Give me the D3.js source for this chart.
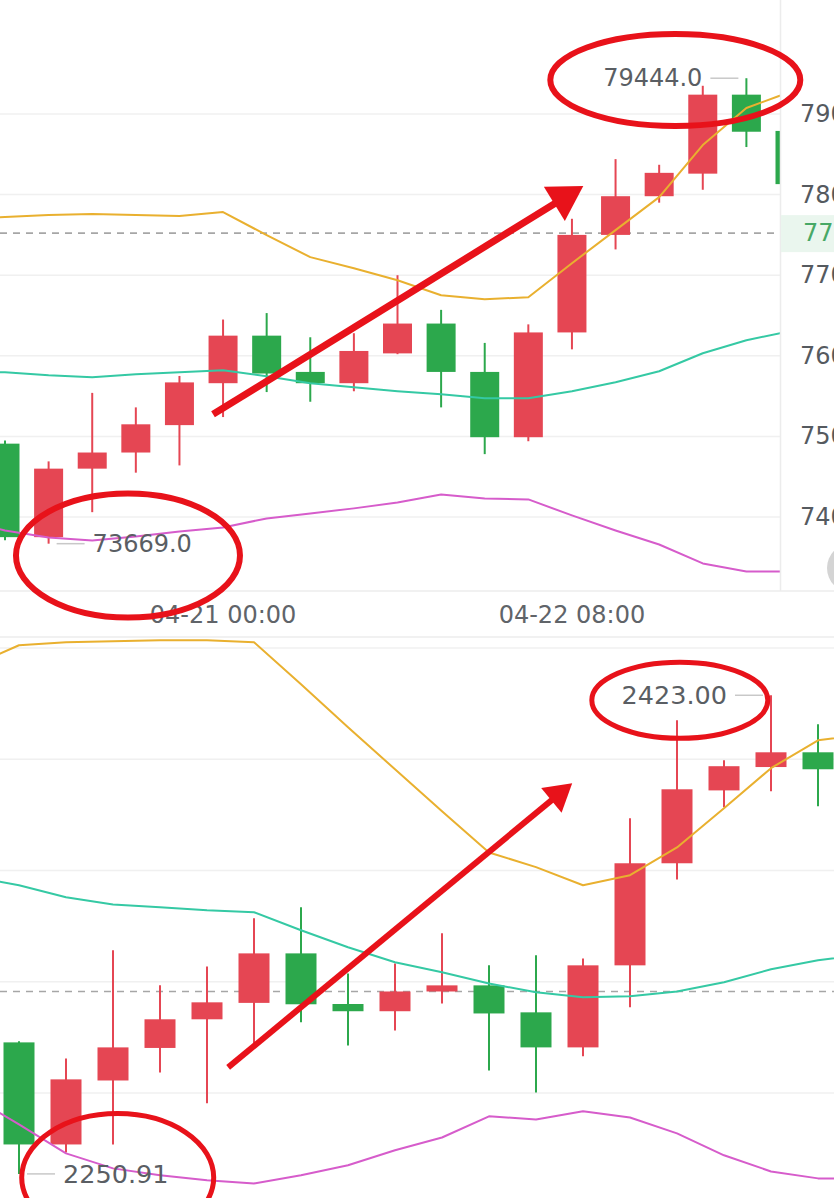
<!DOCTYPE html>
<html>
<head>
<meta charset="utf-8">
<script src="https://cdn.jsdelivr.net/npm/d3@7/dist/d3.min.js"></script>
<style>
  html, body { margin: 0; padding: 0; background: #ffffff; overflow: hidden; }
  svg { display: block; }
  text { font-family: "DejaVu Sans", "Liberation Sans", sans-serif; }
</style>
</head>
<body>
<svg id="chart" width="834" height="1198"></svg>
<script>
// ---------------- DATA ----------------
// Top panel (BTC, 4h candles)
const btcOpen  = [74910, 73750, 74600, 74800, 75140, 75660, 76250, 75800, 75660, 76030, 76400, 75800, 74990, 76290, 77500, 77980, 78260, 79240, 78790];
const btcHigh  = [74950, 74690, 75540, 75360, 75750, 76450, 76530, 76230, 76280, 77000, 76570, 76160, 76390, 77700, 78440, 78370, 79350, 79444, 78800];
const btcLow   = [73710, 73669, 74060, 74550, 74640, 75240, 75550, 75430, 75560, 76020, 75360, 74780, 74940, 76080, 77320, 77900, 78060, 78590, 78100];
const btcClose = [73750, 74600, 74800, 75150, 75670, 76250, 75780, 75660, 76060, 76400, 75800, 74990, 76290, 77500, 77980, 78270, 79240, 78780, 78130];
// band lines, first value belongs to the candle before index 0
const btcUpper = [77696, 77721, 77746, 77758, 77746, 77733, 77783, 77497, 77224, 77087, 76938, 76752, 76702, 76727, 77149, 77559, 77969, 78615, 79075, 79273];
const btcMid   = [75808, 75796, 75758, 75733, 75771, 75796, 75820, 75746, 75659, 75609, 75560, 75522, 75473, 75473, 75560, 75671, 75808, 76032, 76193, 76305];
const btcLower = [73957, 73833, 73746, 73709, 73759, 73821, 73871, 73982, 74044, 74107, 74181, 74280, 74231, 74218, 74020, 73833, 73659, 73424, 73324, 73324];
const btcTicks = [79000, 78000, 77000, 76000, 75000, 74000];
const btcLast  = 77522.0;
const btcTimeLabels = [{ i: 5, label: "04-21 00:00" }, { i: 13, label: "04-22 08:00" }];
const btcHighMark = { i: 17, value: 79444.0, label: "79444.0" };
const btcLowMark  = { i: 1,  value: 73669.0, label: "73669.0" };

// Bottom panel (ETH, 4h candles)
const ethOpen  = [2298.2, 2261.5, 2284.5, 2296.2, 2306.5, 2312.4, 2330.2, 2312.0, 2309.4, 2316.5, 2318.7, 2309.0, 2296.4, 2325.9, 2362.6, 2388.8, 2397.2, 2402.5];
const ethHigh  = [2298.6, 2292.4, 2331.3, 2318.7, 2325.5, 2342.8, 2346.8, 2323.0, 2326.6, 2337.4, 2325.9, 2329.5, 2328.4, 2378.8, 2414.0, 2399.6, 2423.0, 2412.6];
const ethLow   = [2250.91, 2258.6, 2261.5, 2287.4, 2276.3, 2297.8, 2305.4, 2297.1, 2302.5, 2312.2, 2288.1, 2280.2, 2293.2, 2310.8, 2356.8, 2382.7, 2388.5, 2383.1];
const ethClose = [2261.5, 2284.9, 2296.4, 2306.5, 2312.6, 2330.2, 2311.9, 2309.4, 2316.5, 2318.7, 2308.6, 2296.4, 2325.9, 2362.6, 2389.2, 2397.5, 2402.5, 2396.4];
const ethUpper = [2433.5, 2441.0, 2442.1, 2442.4, 2442.8, 2442.8, 2442.1, 2427.0, 2411.5, 2396.4, 2381.3, 2366.5, 2361.2, 2354.7, 2358.3, 2368.3, 2382.4, 2396.8, 2406.8, 2409.0];
const ethMid   = [2357.9, 2354.7, 2350.4, 2347.8, 2346.8, 2345.7, 2345.0, 2338.5, 2332.4, 2327.0, 2323.4, 2319.4, 2316.2, 2314.4, 2314.8, 2316.5, 2319.8, 2324.5, 2327.7, 2329.9];
const ethLower = [2278.8, 2268.7, 2258.3, 2252.9, 2250.4, 2248.6, 2247.5, 2250.4, 2254.0, 2259.4, 2264.0, 2271.6, 2270.5, 2273.4, 2271.2, 2265.5, 2257.6, 2251.8, 2249.3, 2249.3];
const ethTicks = [2440, 2400, 2360, 2320, 2280];
const ethLast  = 2316.5;
const ethHighMark = { i: 16, value: 2423.00, label: "2423.00" };
const ethLowMark  = { i: 0,  value: 2250.91, label: "2250.91" };

// Hand-drawn annotations (in data coordinates: candle index, price)
const btcArrow = { from: [4.77, 75274], to: [13.26, 78106] };
const ethArrow = { from: [4.45, 2289.2], to: [11.77, 2391.4] };
const btcEllipses = [ { i: 15.37, v: 79422, rx: 125, ry: 46 }, { i: 2.82, v: 73523, rx: 112, ry: 62 } ];
const ethEllipses = [ { i: 14.06, v: 2421.2, rx: 88, ry: 38 }, { i: 2.1, v: 2249.6, rx: 96, ry: 64 } ];

// ---------------- STYLE ----------------
const UP = "#e54653", DOWN = "#2ca84c";
const C_UPPER = "#e9b02f", C_MID = "#35c9a4", C_LOWER = "#d65ccb";
const ANNO = "#e8121a";
const W = 834;

const svg = d3.select("#chart");
const defs = svg.append("defs");
defs.append("clipPath").attr("id", "clipTop").append("rect").attr("x", 0).attr("y", 0).attr("width", 780).attr("height", 591);
defs.append("clipPath").attr("id", "clipBot").append("rect").attr("x", 0).attr("y", 638).attr("width", W).attr("height", 560);

function drawPanel(cfg) {
  const { x, y, open, high, low, close, upper, mid, lower, ticks, last, clip, left, right, bw } = cfg;
  const g = svg.append("g");
  g.append("g").selectAll("line").data(ticks).join("line")
    .attr("x1", left).attr("x2", right)
    .attr("y1", d => y(d)).attr("y2", d => y(d))
    .attr("stroke", "#f0f0f0").attr("stroke-width", 1.5);
  const p = g.append("g").attr("clip-path", `url(#${clip})`);
  p.append("line").attr("x1", left).attr("x2", right)
    .attr("y1", y(last)).attr("y2", y(last))
    .attr("stroke", "#a6a6a6").attr("stroke-width", 1.6).attr("stroke-dasharray", "7,6");
  const idx = d3.range(open.length);
  const col = i => close[i] >= open[i] ? UP : DOWN;
  p.append("g").selectAll("line").data(idx).join("line")
    .attr("x1", i => x(i)).attr("x2", i => x(i))
    .attr("y1", i => y(high[i])).attr("y2", i => y(low[i]))
    .attr("stroke", col).attr("stroke-width", 2);
  p.append("g").selectAll("rect").data(idx).join("rect")
    .attr("x", i => x(i) - bw / 2)
    .attr("width", bw)
    .attr("y", i => y(Math.max(open[i], close[i])))
    .attr("height", i => Math.max(2, Math.abs(y(open[i]) - y(close[i]))))
    .attr("fill", col);
  const line = d3.line().x((d, k) => x(k - 1)).y(d => y(d));
  [[upper, C_UPPER], [mid, C_MID], [lower, C_LOWER]].forEach(([arr, c]) => {
    p.append("path").attr("d", line(arr)).attr("fill", "none")
      .attr("stroke", c).attr("stroke-width", 2).attr("stroke-linejoin", "round");
  });
  return g;
}

function markLabel(g, x, y, mark, side, fs) {
  const cx = x(mark.i), cy = y(mark.value);
  const s = side === "left" ? -1 : 1;
  g.append("line")
    .attr("x1", cx + s * 8).attr("x2", cx + s * 36)
    .attr("y1", cy).attr("y2", cy)
    .attr("stroke", "#c8c8c8").attr("stroke-width", 1.5);
  g.append("text")
    .attr("x", cx + s * 44).attr("y", cy)
    .attr("text-anchor", side === "left" ? "end" : "start")
    .attr("dominant-baseline", "central")
    .attr("font-size", fs).attr("fill", "#5a5e63")
    .text(mark.label);
}

function drawArrow(g, x, y, arrow, shaftW, headLen, headHalf) {
  const x1 = x(arrow.from[0]), y1 = y(arrow.from[1]);
  const x2 = x(arrow.to[0]), y2 = y(arrow.to[1]);
  const ang = Math.atan2(y2 - y1, x2 - x1);
  const bx = x2 - headLen * Math.cos(ang), by = y2 - headLen * Math.sin(ang);
  g.append("line").attr("x1", x1).attr("y1", y1).attr("x2", bx + Math.cos(ang) * 2).attr("y2", by + Math.sin(ang) * 2)
    .attr("stroke", ANNO).attr("stroke-width", shaftW);
  const nx = -Math.sin(ang), ny = Math.cos(ang);
  g.append("path")
    .attr("d", `M${x2},${y2}L${bx + nx * headHalf},${by + ny * headHalf}L${bx - nx * headHalf},${by - ny * headHalf}Z`)
    .attr("fill", ANNO);
}

// ---------------- TOP PANEL ----------------
const xTop = d3.scaleLinear().domain([0, 18]).range([5, 790]);
const yTop = d3.scaleLinear().domain([74000, 79000]).range([517, 114]);
const topPanel = drawPanel({ x: xTop, y: yTop, open: btcOpen, high: btcHigh, low: btcLow, close: btcClose,
  upper: btcUpper, mid: btcMid, lower: btcLower, ticks: btcTicks, last: btcLast, clip: "clipTop",
  left: 0, right: 780, bw: 29 });

svg.append("line").attr("x1", 780.5).attr("x2", 780.5).attr("y1", 0).attr("y2", 591).attr("stroke", "#ececec").attr("stroke-width", 1.5);
svg.append("line").attr("x1", 0).attr("x2", W).attr("y1", 591).attr("y2", 591).attr("stroke", "#ececec").attr("stroke-width", 1.5);
svg.append("line").attr("x1", 0).attr("x2", W).attr("y1", 637).attr("y2", 637).attr("stroke", "#ededed").attr("stroke-width", 1.5);

// right axis labels, cut by the window edge as in the source screenshot
svg.append("g").selectAll("text").data(btcTicks).join("text")
  .attr("x", 800).attr("y", d => yTop(d)).attr("dominant-baseline", "central")
  .attr("font-size", 24).attr("fill", "#555a5f")
  .text(d => d3.format(".1f")(d));
svg.append("rect").attr("x", 781).attr("y", yTop(btcLast) - 18).attr("width", 60).attr("height", 37).attr("fill", "#eaf6ee");
svg.append("text").attr("x", 803).attr("y", yTop(btcLast)).attr("dominant-baseline", "central")
  .attr("font-size", 24).attr("fill", "#47a866").text(d3.format(".1f")(btcLast));
svg.append("circle").attr("cx", 852).attr("cy", 568).attr("r", 25).attr("fill", "#d4d4d4");

svg.append("g").selectAll("text").data(btcTimeLabels).join("text")
  .attr("x", d => xTop(d.i)).attr("y", 615).attr("text-anchor", "middle").attr("dominant-baseline", "central")
  .attr("font-size", 24).attr("fill", "#606469")
  .text(d => d.label);

markLabel(topPanel, xTop, yTop, btcHighMark, "left", 24);
markLabel(topPanel, xTop, yTop, btcLowMark, "right", 24);

// ---------------- BOTTOM PANEL ----------------
const xBot = d3.scaleLinear().domain([0, 17]).range([19, 818]);
const yBot = d3.scaleLinear().domain([2280, 2440]).range([1093, 648]);
const botPanel = drawPanel({ x: xBot, y: yBot, open: ethOpen, high: ethHigh, low: ethLow, close: ethClose,
  upper: ethUpper, mid: ethMid, lower: ethLower, ticks: ethTicks, last: ethLast, clip: "clipBot",
  left: 0, right: W, bw: 31 });
markLabel(botPanel, xBot, yBot, ethHighMark, "left", 25.5);
markLabel(botPanel, xBot, yBot, ethLowMark, "right", 25.5);

// ---------------- ANNOTATIONS ----------------
const anno = svg.append("g");
anno.append("g").selectAll("ellipse").data(btcEllipses).join("ellipse")
  .attr("cx", d => xTop(d.i)).attr("cy", d => yTop(d.v)).attr("rx", d => d.rx).attr("ry", d => d.ry)
  .attr("fill", "none").attr("stroke", ANNO).attr("stroke-width", 6);
anno.append("g").selectAll("ellipse").data(ethEllipses).join("ellipse")
  .attr("cx", d => xBot(d.i)).attr("cy", d => yBot(d.v)).attr("rx", d => d.rx).attr("ry", d => d.ry)
  .attr("fill", "none").attr("stroke", ANNO).attr("stroke-width", 5);
drawArrow(anno, xTop, yTop, btcArrow, 7, 34, 20);
drawArrow(anno, xBot, yBot, ethArrow, 6, 27, 16);
</script>
</body>
</html>
